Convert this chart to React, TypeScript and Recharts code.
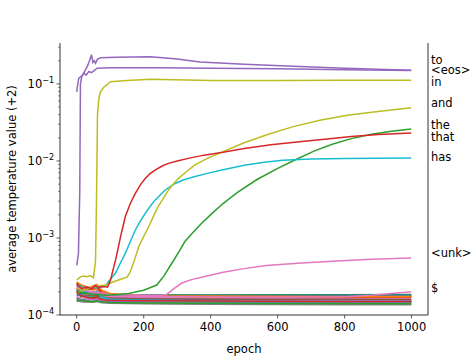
import { LineChart, Line, XAxis, YAxis } from "recharts";

type Pt = [number, number];

// main (labelled) series, [epoch, value]
const purpleLow: Pt[] = [
  [0, 4.4e-4], [5, 6.2e-4], [9, 4e-3], [11, 0.1], [15, 0.125], [21, 0.139], [28, 0.13],
  [36, 0.145], [44, 0.14], [51, 0.148], [61, 0.16], [100, 0.162], [250, 0.162],
  [400, 0.16], [600, 0.157], [800, 0.153], [999, 0.149],
];
const purpleHigh: Pt[] = [
  [0, 0.079], [3, 0.1], [6, 0.118], [12, 0.125], [18, 0.13], [25, 0.15], [32, 0.17],
  [38, 0.2], [44, 0.24], [48, 0.19], [52, 0.2], [56, 0.185], [62, 0.21], [71, 0.218],
  [120, 0.222], [220, 0.226], [300, 0.21], [368, 0.193], [500, 0.18], [665, 0.168],
  [800, 0.16], [999, 0.15],
];
const oliveIn: Pt[] = [
  [0, 2.85e-4], [10, 3.1e-4], [20, 3.2e-4], [30, 3.15e-4], [40, 3.25e-4], [50, 3.05e-4],
  [56, 5e-4], [59, 3e-3], [62, 0.04], [66, 0.065], [71, 0.079], [80, 0.09], [101, 0.107],
  [150, 0.111], [220, 0.115], [400, 0.111], [600, 0.111], [800, 0.112], [999, 0.112],
];
const oliveAnd: Pt[] = [
  [0, 2.2e-4], [25, 2.1e-4], [50, 2.3e-4], [70, 2.4e-4], [86, 2.45e-4], [101, 2.6e-4],
  [125, 2.85e-4], [150, 3.1e-4], [158, 3.5e-4], [165, 4.2e-4], [175, 5.6e-4], [185, 7.7e-4],
  [200, 1.05e-3], [215, 1.4e-3], [230, 1.95e-3], [244, 2.6e-3], [260, 3.35e-3], [274, 4.2e-3],
  [290, 5.1e-3], [304, 5.95e-3], [330, 7.4e-3], [353, 8.9e-3], [390, 0.0108], [437, 0.0132],
  [500, 0.0172], [570, 0.022], [644, 0.0277], [730, 0.034], [813, 0.0395], [900, 0.044],
  [999, 0.049],
];
const redThat: Pt[] = [
  [0, 2.6e-4], [5, 2.4e-4], [15, 2.2e-4], [30, 2.3e-4], [45, 2.2e-4], [55, 2.4e-4],
  [65, 2.3e-4], [80, 2.35e-4], [92, 2.3e-4], [101, 2.85e-4], [108, 3.8e-4], [116, 5.2e-4],
  [124, 7.5e-4], [131, 1.05e-3], [138, 1.4e-3], [145, 1.9e-3], [160, 2.8e-3], [175, 3.8e-3],
  [190, 4.9e-3], [205, 5.95e-3], [220, 6.9e-3], [234, 7.6e-3], [255, 8.6e-3], [274, 9.3e-3],
  [300, 0.01], [333, 0.0108], [380, 0.0119], [437, 0.013], [500, 0.0145], [580, 0.0162],
  [665, 0.0178], [740, 0.0192], [820, 0.0207], [900, 0.022], [999, 0.023],
];
const greenThe: Pt[] = [
  [0, 2e-4], [30, 1.9e-4], [60, 1.85e-4], [91, 1.8e-4], [155, 1.9e-4], [200, 2.1e-4],
  [239, 2.45e-4], [260, 3.2e-4], [284, 4.7e-4], [305, 6.6e-4], [323, 9e-4], [345, 1.15e-3],
  [373, 1.55e-3], [405, 2.1e-3], [437, 2.8e-3], [480, 3.9e-3], [537, 5.7e-3], [600, 8e-3],
  [650, 0.0102], [710, 0.0135], [763, 0.0165], [820, 0.0195], [880, 0.0222], [940, 0.0243],
  [999, 0.026],
];
const cyanHas: Pt[] = [
  [0, 2.5e-4], [20, 2.3e-4], [40, 2.25e-4], [60, 2.25e-4], [75, 2.3e-4], [86, 2.4e-4],
  [100, 2.9e-4], [116, 3.5e-4], [130, 4.7e-4], [145, 6.3e-4], [160, 9e-4], [175, 1.27e-3],
  [190, 1.65e-3], [205, 2.1e-3], [220, 2.6e-3], [234, 3.1e-3], [250, 3.65e-3], [264, 4.2e-3],
  [294, 5.1e-3], [320, 5.7e-3], [353, 6.27e-3], [390, 6.9e-3], [437, 7.7e-3], [500, 8.8e-3],
  [560, 9.6e-3], [615, 0.0102], [700, 0.0106], [800, 0.0108], [999, 0.0109],
];
const pinkUnk: Pt[] = [
  [0, 2.2e-4], [50, 2e-4], [100, 1.85e-4], [200, 1.8e-4], [250, 1.8e-4], [269, 1.85e-4],
  [290, 2.2e-4], [314, 2.6e-4], [345, 2.9e-4], [373, 3.1e-4], [437, 3.6e-4], [500, 4e-4],
  [566, 4.4e-4], [660, 4.7e-4], [763, 5e-4], [880, 5.3e-4], [999, 5.5e-4],
];
const pinkDollar: Pt[] = [
  [0, 2.3e-4], [50, 1.9e-4], [100, 1.75e-4], [300, 1.72e-4], [600, 1.7e-4],
  [800, 1.72e-4], [880, 1.8e-4], [940, 1.9e-4], [999, 2e-4],
];

// unlabelled bundle near the bottom, values in units of 1e-4
const bundleEpochs = [0, 10, 20, 35, 50, 60, 75, 100, 200, 400, 600, 800, 999];
const bundleE4: number[][] = [
  [2.1, 1.9, 1.8, 1.75, 1.7, 1.75, 1.6, 1.55, 1.5, 1.48, 1.46, 1.45, 1.45],
  [2.6, 2.4, 2.3, 2.2, 2.1, 2.2, 1.9, 1.8, 1.75, 1.72, 1.7, 1.7, 1.7],
  [1.6, 1.7, 1.8, 1.8, 1.85, 1.9, 1.85, 1.8, 1.78, 1.75, 1.75, 1.74, 1.74],
  [2.4, 2.5, 2.3, 2.2, 2.3, 2.35, 2.0, 1.85, 1.8, 1.78, 1.76, 1.75, 1.75],
  [1.9, 1.8, 1.85, 1.7, 1.65, 1.7, 1.6, 1.58, 1.55, 1.55, 1.54, 1.53, 1.53],
  [2.0, 1.85, 1.75, 1.72, 1.7, 1.72, 1.65, 1.62, 1.6, 1.58, 1.57, 1.56, 1.56],
  [2.2, 2.0, 1.95, 1.85, 1.8, 1.85, 1.75, 1.7, 1.67, 1.66, 1.65, 1.65, 1.64],
  [1.7, 1.6, 1.55, 1.5, 1.5, 1.55, 1.48, 1.45, 1.42, 1.4, 1.39, 1.38, 1.38],
  [2.3, 2.1, 2.0, 1.95, 1.9, 2.0, 1.85, 1.82, 1.8, 1.8, 1.79, 1.8, 1.8],
  [1.8, 1.9, 1.75, 1.7, 1.75, 1.8, 1.6, 1.55, 1.52, 1.5, 1.5, 1.49, 1.48],
  [2.5, 2.2, 2.1, 2.0, 1.95, 2.05, 1.7, 1.62, 1.58, 1.56, 1.55, 1.54, 1.54],
  [2.7, 2.5, 2.4, 2.3, 2.2, 2.25, 1.95, 1.82, 1.76, 1.73, 1.72, 1.71, 1.71],
  [1.5, 1.55, 1.6, 1.65, 1.7, 1.75, 1.78, 1.8, 1.82, 1.82, 1.83, 1.83, 1.84],
  [2.0, 2.2, 2.1, 2.15, 2.2, 2.3, 1.9, 1.8, 1.76, 1.74, 1.73, 1.73, 1.72],
  [1.65, 1.6, 1.55, 1.55, 1.58, 1.6, 1.52, 1.5, 1.48, 1.47, 1.46, 1.46, 1.45],
  [2.2, 1.95, 1.9, 1.8, 1.78, 1.8, 1.7, 1.66, 1.63, 1.61, 1.6, 1.6, 1.59],
  [1.75, 1.65, 1.7, 1.6, 1.62, 1.65, 1.58, 1.56, 1.54, 1.53, 1.52, 1.52, 1.51],
  [1.55, 1.5, 1.48, 1.47, 1.46, 1.5, 1.44, 1.42, 1.4, 1.38, 1.37, 1.36, 1.36],
  [1.95, 2.0, 1.9, 1.88, 1.85, 1.9, 1.82, 1.8, 1.79, 1.78, 1.78, 1.77, 1.77],
  [2.35, 2.15, 2.05, 1.95, 1.9, 2.0, 1.7, 1.6, 1.55, 1.52, 1.5, 1.5, 1.5],
  [1.8, 1.85, 1.95, 1.9, 1.88, 1.9, 1.84, 1.82, 1.81, 1.8, 1.8, 1.81, 1.82],
  [2.2, 2.3, 2.4, 2.25, 2.4, 2.5, 2.1, 1.9, 1.78, 1.76, 1.75, 1.74, 1.74],
  [1.6, 1.55, 1.52, 1.5, 1.5, 1.52, 1.47, 1.45, 1.43, 1.42, 1.41, 1.41, 1.4],
  [2.0, 1.8, 1.75, 1.68, 1.65, 1.7, 1.58, 1.55, 1.53, 1.52, 1.51, 1.5, 1.5],
];

const tab10 = [
  "#1f77b4", "#ff7f0e", "#2ca02c", "#d62728", "#9467bd",
  "#8c564b", "#e377c2", "#7f7f7f", "#bcbd22", "#17becf",
];

const mainSeries = [
  { id: "dollar", color: "#e377c2", points: pinkDollar },
  { id: "unk", color: "#e377c2", points: pinkUnk },
  { id: "the", color: "#2ca02c", points: greenThe },
  { id: "has", color: "#17becf", points: cyanHas },
  { id: "and", color: "#bcbd22", points: oliveAnd },
  { id: "that", color: "#d62728", points: redThat },
  { id: "in", color: "#bcbd22", points: oliveIn },
  { id: "eos", color: "#9467bd", points: purpleLow },
  { id: "to", color: "#9467bd", points: purpleHigh },
];

const tokenLabels = ["to", "<eos>", "in", "and", "the", "that", "has", "<unk>", "$"];
const tokenLabelAt = [0.205, 0.15, 0.106, 0.0566, 0.0289, 0.0205, 0.0111, 6.4e-4, 2.24e-4];

const xTicks = [0, 200, 400, 600, 800, 1000];
const yMajor = [1e-4, 1e-3, 1e-2, 1e-1];
const yMinor = [
  2e-4, 3e-4, 4e-4, 5e-4, 6e-4, 7e-4, 8e-4, 9e-4,
  2e-3, 3e-3, 4e-3, 5e-3, 6e-3, 7e-3, 8e-3, 9e-3,
  2e-2, 3e-2, 4e-2, 5e-2, 6e-2, 7e-2, 8e-2, 9e-2,
  2e-1, 3e-1,
];

const FONT = "DejaVu Sans";
const FS = 11.5;
const AXIS = "#333";

const toRows = (pts: Pt[]) => pts.map(([epoch, v]) => ({ epoch, v }));

const XTick = ({ x, y, payload }: any) => (
  <g>
    <line x1={x} x2={x} y1={y} y2={y + 3.5} stroke={AXIS} strokeWidth={0.8} />
    <text x={x} y={y + 16} textAnchor="middle" fontSize={FS} fontFamily={FONT} fill="#000">
      {payload.value}
    </text>
  </g>
);

const YTick = ({ x, y, payload }: any) => {
  const lg = Math.log10(payload.value);
  const exp = Math.round(lg);
  const major = Math.abs(lg - exp) < 1e-6;
  return (
    <g>
      <line x1={x} x2={x - (major ? 3.5 : 2)} y1={y} y2={y} stroke={AXIS} strokeWidth={major ? 0.8 : 0.6} />
      {major && (
        <text x={x - 6} y={y + 4} textAnchor="end" fontSize={FS} fontFamily={FONT} fill="#000">
          10
          <tspan dy={-5} fontSize={8}>{"\u2212" + -exp}</tspan>
        </text>
      )}
    </g>
  );
};

const TokenTick = ({ x, y, index }: any) => (
  <text x={x + 3} y={y + 4} textAnchor="start" fontSize={FS} fontFamily={FONT} fill="#000">
    {tokenLabels[index]}
  </text>
);

export default function App() {
  return (
    <div style={{ position: "absolute", left: 0, top: 0, width: 475, height: 356, background: "#fff" }}>
      <LineChart width={475} height={356} margin={{ top: 43, right: 0, bottom: 0, left: 0 }}>
        <XAxis
          xAxisId="x"
          dataKey="epoch"
          type="number"
          domain={[-50, 1049]}
          allowDataOverflow
          ticks={xTicks}
          interval={0}
          tick={XTick}
          tickLine={false}
          tickSize={0}
          tickMargin={0}
          height={41}
          axisLine={{ stroke: AXIS, strokeWidth: 1 }}
          label={{ value: "epoch", position: "insideBottom", offset: 3, fontSize: FS, fontFamily: FONT, fill: "#000" }}
        />
        <XAxis
          xAxisId="top"
          orientation="top"
          type="number"
          domain={[-50, 1049]}
          tick={false}
          tickLine={false}
          height={0}
          axisLine={{ stroke: "#000", strokeWidth: 1 }}
        />
        <YAxis
          yAxisId="y"
          scale="log"
          type="number"
          domain={[1e-4, 0.34]}
          allowDataOverflow
          ticks={[...yMajor, ...yMinor]}
          interval={0}
          tick={YTick}
          tickLine={false}
          tickSize={0}
          tickMargin={0}
          width={60}
          axisLine={{ stroke: AXIS, strokeWidth: 1 }}
          label={{
            value: "average temperature value (+2)",
            angle: -90,
            position: "insideLeft",
            offset: 12,
            fontSize: FS,
            fontFamily: FONT,
            fill: "#000",
            style: { textAnchor: "middle" },
          }}
        />
        <YAxis
          yAxisId="right"
          orientation="right"
          scale="log"
          type="number"
          domain={[1e-4, 0.34]}
          allowDataOverflow
          ticks={tokenLabelAt}
          interval={0}
          tick={TokenTick}
          tickLine={false}
          tickSize={0}
          tickMargin={0}
          width={47}
          axisLine={{ stroke: AXIS, strokeWidth: 1 }}
        />
        {bundleE4.map((vals, i) => (
          <Line
            key={"b" + i}
            xAxisId="x"
            yAxisId="y"
            data={bundleEpochs.map((epoch, j) => ({ epoch, v: vals[j] * 1e-4 }))}
            dataKey="v"
            type="linear"
            stroke={tab10[i % 10]}
            strokeWidth={1.5}
            dot={false}
            isAnimationActive={false}
          />
        ))}
        {mainSeries.map((s) => (
          <Line
            key={s.id}
            xAxisId="x"
            yAxisId="y"
            data={toRows(s.points)}
            dataKey="v"
            type="linear"
            stroke={s.color}
            strokeWidth={1.5}
            dot={false}
            isAnimationActive={false}
          />
        ))}
      </LineChart>
    </div>
  );
}
